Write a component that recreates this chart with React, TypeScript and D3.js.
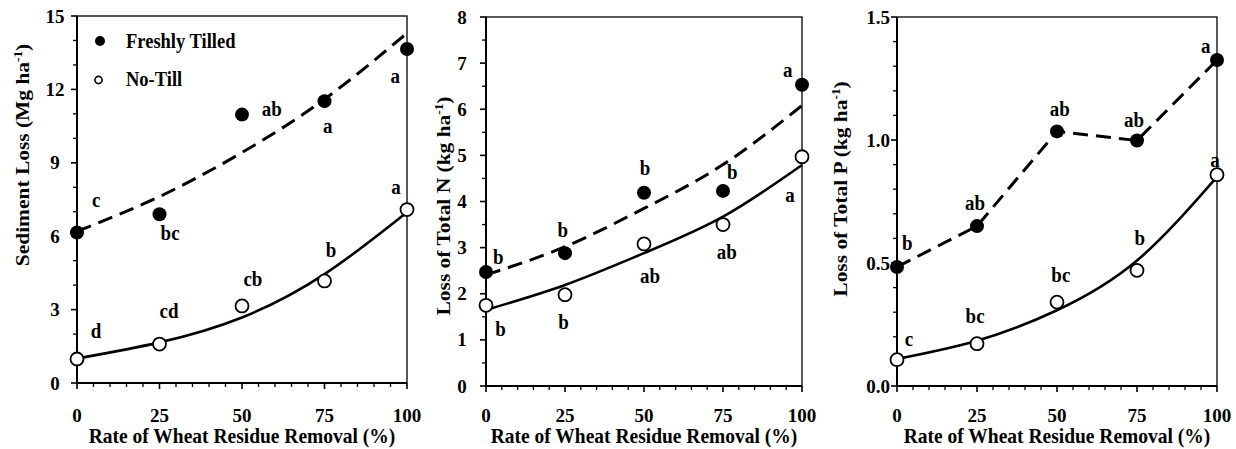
import React from "react";
import * as d3 from "d3";

// ---------- data ----------
const X_VALUES = [0, 25, 50, 75, 100];
const X_TICKS = [0, 25, 50, 75, 100];

// Panel 1: sediment loss (Mg ha-1)
const SED_FT = [6.15, 6.9, 10.97, 11.52, 13.65];
const SED_NT = [0.98, 1.59, 3.15, 4.17, 7.09];
const SED_FT_FIT = [6.2, 7.62, 9.42, 11.6, 14.3];
const SED_NT_FIT = [1.0, 1.66, 2.68, 4.45, 6.98];
const SED_FT_LETTERS = ["c", "bc", "ab", "a", "a"];
const SED_FT_LETTER_X = [5.8, 28.2, 59, 76, 96.4];
const SED_FT_LETTER_Y = [7.42, 6.07, 11.17, 10.48, 12.5];
const SED_NT_LETTERS = ["d", "cd", "cb", "b", "a"];
const SED_NT_LETTER_X = [5.8, 27.9, 53.3, 77, 96.7];
const SED_NT_LETTER_Y = [2.08, 2.89, 4.2, 5.38, 7.95];
const SED_Y_TICKS = [0, 3, 6, 9, 12, 15];

// Panel 2: total N (kg ha-1)
const N_FT = [2.47, 2.88, 4.19, 4.23, 6.53];
const N_NT = [1.75, 1.98, 3.08, 3.5, 4.97];
const N_FT_FIT = [2.41, 3.02, 3.85, 4.8, 6.08];
const N_NT_FIT = [1.65, 2.19, 2.88, 3.67, 4.79];
const N_FT_LETTERS = ["b", "b", "b", "b", "a"];
const N_FT_LETTER_X = [3.9, 24.3, 50.3, 77.9, 95.5];
const N_FT_LETTER_Y = [2.78, 3.37, 4.71, 4.61, 6.84];
const N_NT_LETTERS = ["b", "b", "ab", "ab", "a"];
const N_NT_LETTER_X = [4.6, 24.5, 51.9, 76.2, 96.2];
const N_NT_LETTER_Y = [1.21, 1.37, 2.36, 2.88, 4.11];
const N_Y_TICKS = [0, 1, 2, 3, 4, 5, 6, 7, 8];

// Panel 3: total P (kg ha-1)
const P_FT = [0.484, 0.65, 1.035, 0.998, 1.325];
const P_NT = [0.107, 0.172, 0.341, 0.47, 0.859];
const P_NT_FIT = [0.11, 0.184, 0.308, 0.51, 0.85];
const P_FT_LETTERS = ["b", "ab", "ab", "ab", "a"];
const P_FT_LETTER_X = [3.2, 24.4, 50.9, 74.1, 96.5];
const P_FT_LETTER_Y = [0.577, 0.74, 1.122, 1.078, 1.377];
const P_NT_LETTERS = ["c", "bc", "bc", "b", "a"];
const P_NT_LETTER_X = [3.75, 24.4, 51.2, 75.9, 99.4];
const P_NT_LETTER_Y = [0.187, 0.282, 0.447, 0.596, 0.916];
const P_Y_TICKS = [0, 0.5, 1.0, 1.5];

const LEGEND = ["Freshly Tilled", "No-Till"];
const X_TITLE = "Rate of Wheat Residue Removal (%)";

// ---------- styling ----------
const FONT = "'Liberation Serif', 'Times New Roman', serif";
const STRETCH = 1.1;

type Pt = { x: number; y: number };
const zip = (xs: number[], ys: number[]): Pt[] => xs.map((x, i) => ({ x, y: ys[i] }));

type Spec = {
  left: number; right: number; top: number; bottom: number;
  yMax: number; yTicks: number[]; yMinorStep: number; yFmt: (v: number) => string;
  yLabelAnchor: "middle" | "end"; yLabelDx: number;
  titleMain: string; titleUnit: string; titleX: number; titleY: number;
  ft: number[]; nt: number[]; ftFit: number[] | null; ntFit: number[];
  ftLetters: string[]; ftLX: number[]; ftLY: number[];
  ntLetters: string[]; ntLX: number[]; ntLY: number[];
  legend: boolean;
};

function SText(props: { x: number; y: number; size: number; anchor?: string; baseline?: string; rotate?: boolean; children: React.ReactNode }) {
  const { x, y, size, anchor = "start", baseline, rotate, children } = props;
  const tr = rotate
    ? `translate(${x},${y}) rotate(-90) scale(${STRETCH},1)`
    : `translate(${x},${y}) scale(1,${STRETCH})`;
  return (
    <text transform={tr} fontFamily={FONT} fontWeight="bold" fontSize={size}
      textAnchor={anchor} dominantBaseline={baseline} fill="#000">
      {children}
    </text>
  );
}

function Panel({ s }: { s: Spec }) {
  const x = d3.scaleLinear().domain([0, 100]).range([s.left, s.right]);
  const y = d3.scaleLinear().domain([0, s.yMax]).range([s.bottom, s.top]);
  const line = d3.line<Pt>().x(d => x(d.x)).y(d => y(d.y));
  const smooth = d3.line<Pt>().x(d => x(d.x)).y(d => y(d.y)).curve(d3.curveNatural);

  const xMinor = d3.range(0, 100.01, 5).filter(v => v % 25 !== 0);
  const yMinor = d3.range(0, s.yMax + 1e-6, s.yMinorStep).filter(v => !s.yTicks.some(t => Math.abs(t - v) < 1e-6));

  const ftPts = zip(X_VALUES, s.ft);
  const ntPts = zip(X_VALUES, s.nt);
  const ftLine = s.ftFit ? smooth(zip(X_VALUES, s.ftFit)) : line(ftPts);
  const ntLine = smooth(zip(X_VALUES, s.ntFit));

  return (
    <g>
      {/* frame */}
      <rect x={s.left} y={s.top} width={s.right - s.left} height={s.bottom - s.top} fill="none" stroke="#000" strokeWidth={1.3} />
      <line x1={s.left} x2={s.left} y1={s.top} y2={s.bottom} stroke="#000" strokeWidth={2} />
      <line x1={s.left} x2={s.right} y1={s.bottom} y2={s.bottom} stroke="#000" strokeWidth={2} />
      {/* y ticks */}
      {s.yTicks.map(t => (
        <g key={"yt" + t}>
          <line x1={s.left - 6} x2={s.left} y1={y(t)} y2={y(t)} stroke="#000" strokeWidth={1.6} />
          <text x={s.left - s.yLabelDx} y={y(t)} fontFamily={FONT} fontWeight="bold" fontSize={19}
            textAnchor={s.yLabelAnchor} dominantBaseline="central">{s.yFmt(t)}</text>
        </g>
      ))}
      {yMinor.map(t => (
        <line key={"ym" + t} x1={s.left - 4} x2={s.left} y1={y(t)} y2={y(t)} stroke="#000" strokeWidth={1.3} />
      ))}
      {/* x ticks */}
      {X_TICKS.map(t => (
        <g key={"xt" + t}>
          <line x1={x(t)} x2={x(t)} y1={s.bottom} y2={s.bottom + 6} stroke="#000" strokeWidth={1.6} />
          <text x={x(t)} y={415} fontFamily={FONT} fontWeight="bold" fontSize={19}
            textAnchor="middle" dominantBaseline="central">{t}</text>
        </g>
      ))}
      {xMinor.map(t => (
        <line key={"xm" + t} x1={x(t)} x2={x(t)} y1={s.bottom} y2={s.bottom + 4} stroke="#000" strokeWidth={1.3} />
      ))}
      {/* titles */}
      <SText x={(s.left + s.right) / 2} y={443} size={19.5} anchor="middle">{X_TITLE}</SText>
      <SText x={s.titleX} y={s.titleY} size={19.5} anchor="middle" rotate>
        {s.titleMain}
        <tspan>{s.titleUnit}</tspan>
        <tspan fontSize={12} dy={-7}>-1</tspan>
        <tspan dy={7}>)</tspan>
      </SText>
      {/* lines */}
      <path d={ftLine || ""} fill="none" stroke="#000" strokeWidth={3} strokeDasharray="15 8" />
      <path d={ntLine || ""} fill="none" stroke="#000" strokeWidth={2.6} />
      {/* points */}
      {ftPts.map((p, i) => (
        <circle key={"f" + i} cx={x(p.x)} cy={y(p.y)} r={7} fill="#000" />
      ))}
      {ntPts.map((p, i) => (
        <circle key={"n" + i} cx={x(p.x)} cy={y(p.y)} r={6.5} fill="#fff" stroke="#000" strokeWidth={1.8} />
      ))}
      {/* letters */}
      {s.ftLetters.map((l, i) => (
        <SText key={"fl" + i} x={x(s.ftLX[i])} y={y(s.ftLY[i]) + 6} size={19} anchor="middle">{l}</SText>
      ))}
      {s.ntLetters.map((l, i) => (
        <SText key={"nl" + i} x={x(s.ntLX[i])} y={y(s.ntLY[i]) + 6} size={19} anchor="middle">{l}</SText>
      ))}
      {s.legend && (
        <g>
          <circle cx={s.left + 23} cy={41} r={5} fill="#000" />
          <SText x={s.left + 49} y={48} size={18.5}>{LEGEND[0]}</SText>
          <circle cx={s.left + 21.5} cy={80} r={3.6} fill="#fff" stroke="#000" strokeWidth={1.6} />
          <SText x={s.left + 49} y={86} size={18.5}>{LEGEND[1]}</SText>
        </g>
      )}
    </g>
  );
}

const PANELS: Spec[] = [
  {
    left: 77, right: 407, top: 16, bottom: 383,
    yMax: 15, yTicks: SED_Y_TICKS, yMinorStep: 1, yFmt: d3.format("d"),
    yLabelAnchor: "middle", yLabelDx: 22,
    titleMain: "Sediment Loss ", titleUnit: "(Mg ha", titleX: 29, titleY: 155,
    ft: SED_FT, nt: SED_NT, ftFit: SED_FT_FIT, ntFit: SED_NT_FIT,
    ftLetters: SED_FT_LETTERS, ftLX: SED_FT_LETTER_X, ftLY: SED_FT_LETTER_Y,
    ntLetters: SED_NT_LETTERS, ntLX: SED_NT_LETTER_X, ntLY: SED_NT_LETTER_Y,
    legend: true,
  },
  {
    left: 486, right: 802, top: 17, bottom: 386,
    yMax: 8, yTicks: N_Y_TICKS, yMinorStep: 0.5, yFmt: d3.format("d"),
    yLabelAnchor: "middle", yLabelDx: 24,
    titleMain: "Loss of Total N  ", titleUnit: "(kg ha", titleX: 450, titleY: 206,
    ft: N_FT, nt: N_NT, ftFit: N_FT_FIT, ntFit: N_NT_FIT,
    ftLetters: N_FT_LETTERS, ftLX: N_FT_LETTER_X, ftLY: N_FT_LETTER_Y,
    ntLetters: N_NT_LETTERS, ntLX: N_NT_LETTER_X, ntLY: N_NT_LETTER_Y,
    legend: false,
  },
  {
    left: 897, right: 1217, top: 17, bottom: 386,
    yMax: 1.5, yTicks: P_Y_TICKS, yMinorStep: 0.1, yFmt: d3.format(".1f"),
    yLabelAnchor: "end", yLabelDx: 7,
    titleMain: "Loss of Total P ", titleUnit: "(kg ha", titleX: 847, titleY: 189,
    ft: P_FT, nt: P_NT, ftFit: null, ntFit: P_NT_FIT,
    ftLetters: P_FT_LETTERS, ftLX: P_FT_LETTER_X, ftLY: P_FT_LETTER_Y,
    ntLetters: P_NT_LETTERS, ntLX: P_NT_LETTER_X, ntLY: P_NT_LETTER_Y,
    legend: false,
  },
];

export default function App() {
  return (
    <svg width={1236} height={449} style={{ position: "absolute", left: 0, top: 0, background: "#fff" }}
      xmlSpace="preserve">
      <rect x={0} y={0} width={1236} height={449} fill="#fff" />
      {PANELS.map((s, i) => <Panel key={i} s={s} />)}
    </svg>
  );
}
